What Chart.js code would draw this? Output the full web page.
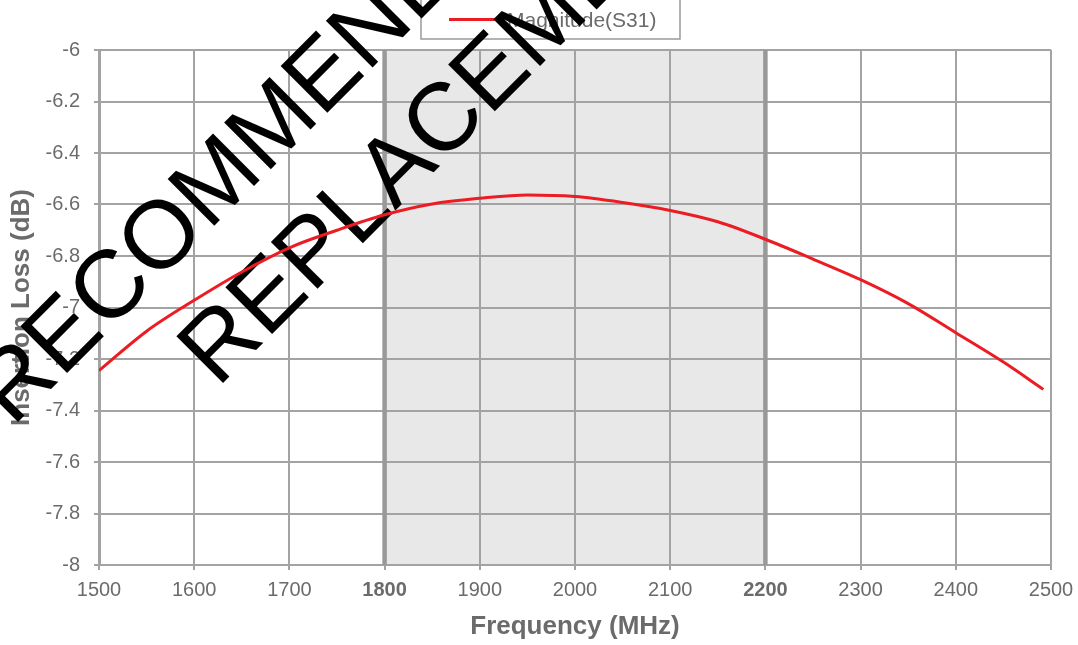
<!DOCTYPE html>
<html>
<head>
<meta charset="utf-8">
<script src="https://cdn.jsdelivr.net/npm/chart.js@4.4.1/dist/chart.umd.min.js"></script>
<style>
  html, body { margin: 0; padding: 0; background: #fff; }
</style>
</head>
<body>
<canvas id="chart" width="1078" height="645"></canvas>
<script>
// values
const freqs = [1500, 1550, 1600, 1650, 1700, 1750, 1800, 1850, 1900, 1950, 2000,
               2050, 2100, 2150, 2200, 2250, 2300, 2350, 2400, 2450, 2492];
const s31   = [-7.245, -7.092, -6.972, -6.862, -6.768, -6.700, -6.640, -6.598, -6.576, -6.563, -6.569,
               -6.592, -6.623, -6.667, -6.735, -6.812, -6.892, -6.985, -7.098, -7.212, -7.318];
const bandStart  = 1800;
const bandEnd    = 2200;
const boldTicks  = [1800, 2200];
const seriesName = 'Magnitude(S31)';
const watermark  = ['RECOMMENDED', 'REPLACEMENT'];

const textGrey = '#6b6b6b';
const gridGrey = '#a3a3a3';
const lineRed  = '#ec1c24';
const family   = '"Liberation Sans", Arial, sans-serif';

// shaded pass band with heavy edges
const bandPlugin = {
  id: 'band',
  beforeDraw(chart) {
    const { ctx, chartArea: a, scales: { x } } = chart;
    const x0 = x.getPixelForValue(bandStart);
    const x1 = x.getPixelForValue(bandEnd);
    ctx.save();
    ctx.fillStyle = '#e8e8e8';
    ctx.fillRect(x0, a.top, x1 - x0, a.bottom - a.top);
    ctx.restore();
  },
  beforeDatasetsDraw(chart) {
    const { ctx, chartArea: a, scales: { x } } = chart;
    ctx.save();
    ctx.strokeStyle = '#999999';
    ctx.lineWidth = 4.5;
    [bandStart, bandEnd].forEach(v => {
      const px = x.getPixelForValue(v);
      ctx.beginPath();
      ctx.moveTo(px, a.top);
      ctx.lineTo(px, a.bottom);
      ctx.stroke();
    });
    ctx.restore();
  }
};

// boxed legend, then the watermark on top of it (line is drawn after both)
const overlayPlugin = {
  id: 'overlay',
  beforeDatasetsDraw(chart) {
    const { ctx } = chart;
    const ds = chart.data.datasets[0];
    ctx.save();
    ctx.fillStyle = '#fff';
    ctx.strokeStyle = '#9a9a9a';
    ctx.lineWidth = 1.5;
    ctx.fillRect(421, -2, 259, 41);
    ctx.strokeRect(421, -2, 259, 41);
    ctx.strokeStyle = ds.borderColor;
    ctx.lineWidth = 3;
    ctx.beginPath();
    ctx.moveTo(449, 19.5);
    ctx.lineTo(503, 19.5);
    ctx.stroke();
    ctx.fillStyle = textGrey;
    ctx.font = '21px ' + family;
    ctx.textBaseline = 'middle';
    ctx.fillText(ds.label, 507, 21);

    ctx.translate(12.6, 427.4);
    ctx.rotate(-Math.PI / 4);
    ctx.fillStyle = '#000';
    ctx.font = '96px ' + family;
    ctx.textBaseline = 'alphabetic';
    ctx.fillText(watermark[0], 0, 0);
    ctx.fillText(watermark[1], 172.5, 117.4);
    ctx.restore();
  }
};

new Chart(document.getElementById('chart'), {
  type: 'line',
  data: {
    datasets: [{
      label: seriesName,
      data: freqs.map((f, i) => ({ x: f, y: s31[i] })),
      borderColor: lineRed,
      borderWidth: 3,
      pointRadius: 0,
      cubicInterpolationMode: 'monotone',
      fill: false
    }]
  },
  options: {
    responsive: false,
    animation: false,
    devicePixelRatio: 1,
    layout: { padding: { top: 50, right: 27, left: 0, bottom: 0 } },
    plugins: {
      legend: { display: false },
      tooltip: { enabled: false }
    },
    scales: {
      x: {
        type: 'linear',
        min: 1500,
        max: 2500,
        afterFit: s => { s.height = 80; s.paddingLeft = 0; s.paddingRight = 0; },
        ticks: {
          stepSize: 100,
          color: textGrey,
          padding: 8,
          maxRotation: 0,
          callback: v => String(v),
          font: ctx => ({
            family,
            size: 20,
            weight: boldTicks.includes(ctx.tick && ctx.tick.value) ? 'bold' : 'normal'
          })
        },
        grid: { color: gridGrey, lineWidth: 2, tickLength: 5 },
        border: { color: gridGrey, width: 2 },
        title: {
          display: true,
          text: 'Frequency (MHz)',
          color: textGrey,
          font: { family, size: 26, weight: 'bold' },
          padding: { top: 0, bottom: 3 }
        }
      },
      y: {
        min: -8,
        max: -6,
        afterFit: s => { s.width = 99; },
        ticks: {
          stepSize: 0.2,
          color: textGrey,
          padding: 14,
          callback: v => String(Math.round(v * 10) / 10),
          font: { family, size: 20 }
        },
        grid: { color: gridGrey, lineWidth: 2, tickLength: 5 },
        border: { color: gridGrey, width: 3 },
        title: {
          display: true,
          text: 'Insertion Loss (dB)',
          color: textGrey,
          font: { family, size: 26, weight: 'bold' },
          padding: { top: 6, bottom: 0 }
        }
      }
    }
  },
  plugins: [bandPlugin, overlayPlugin]
});
</script>
</body>
</html>
